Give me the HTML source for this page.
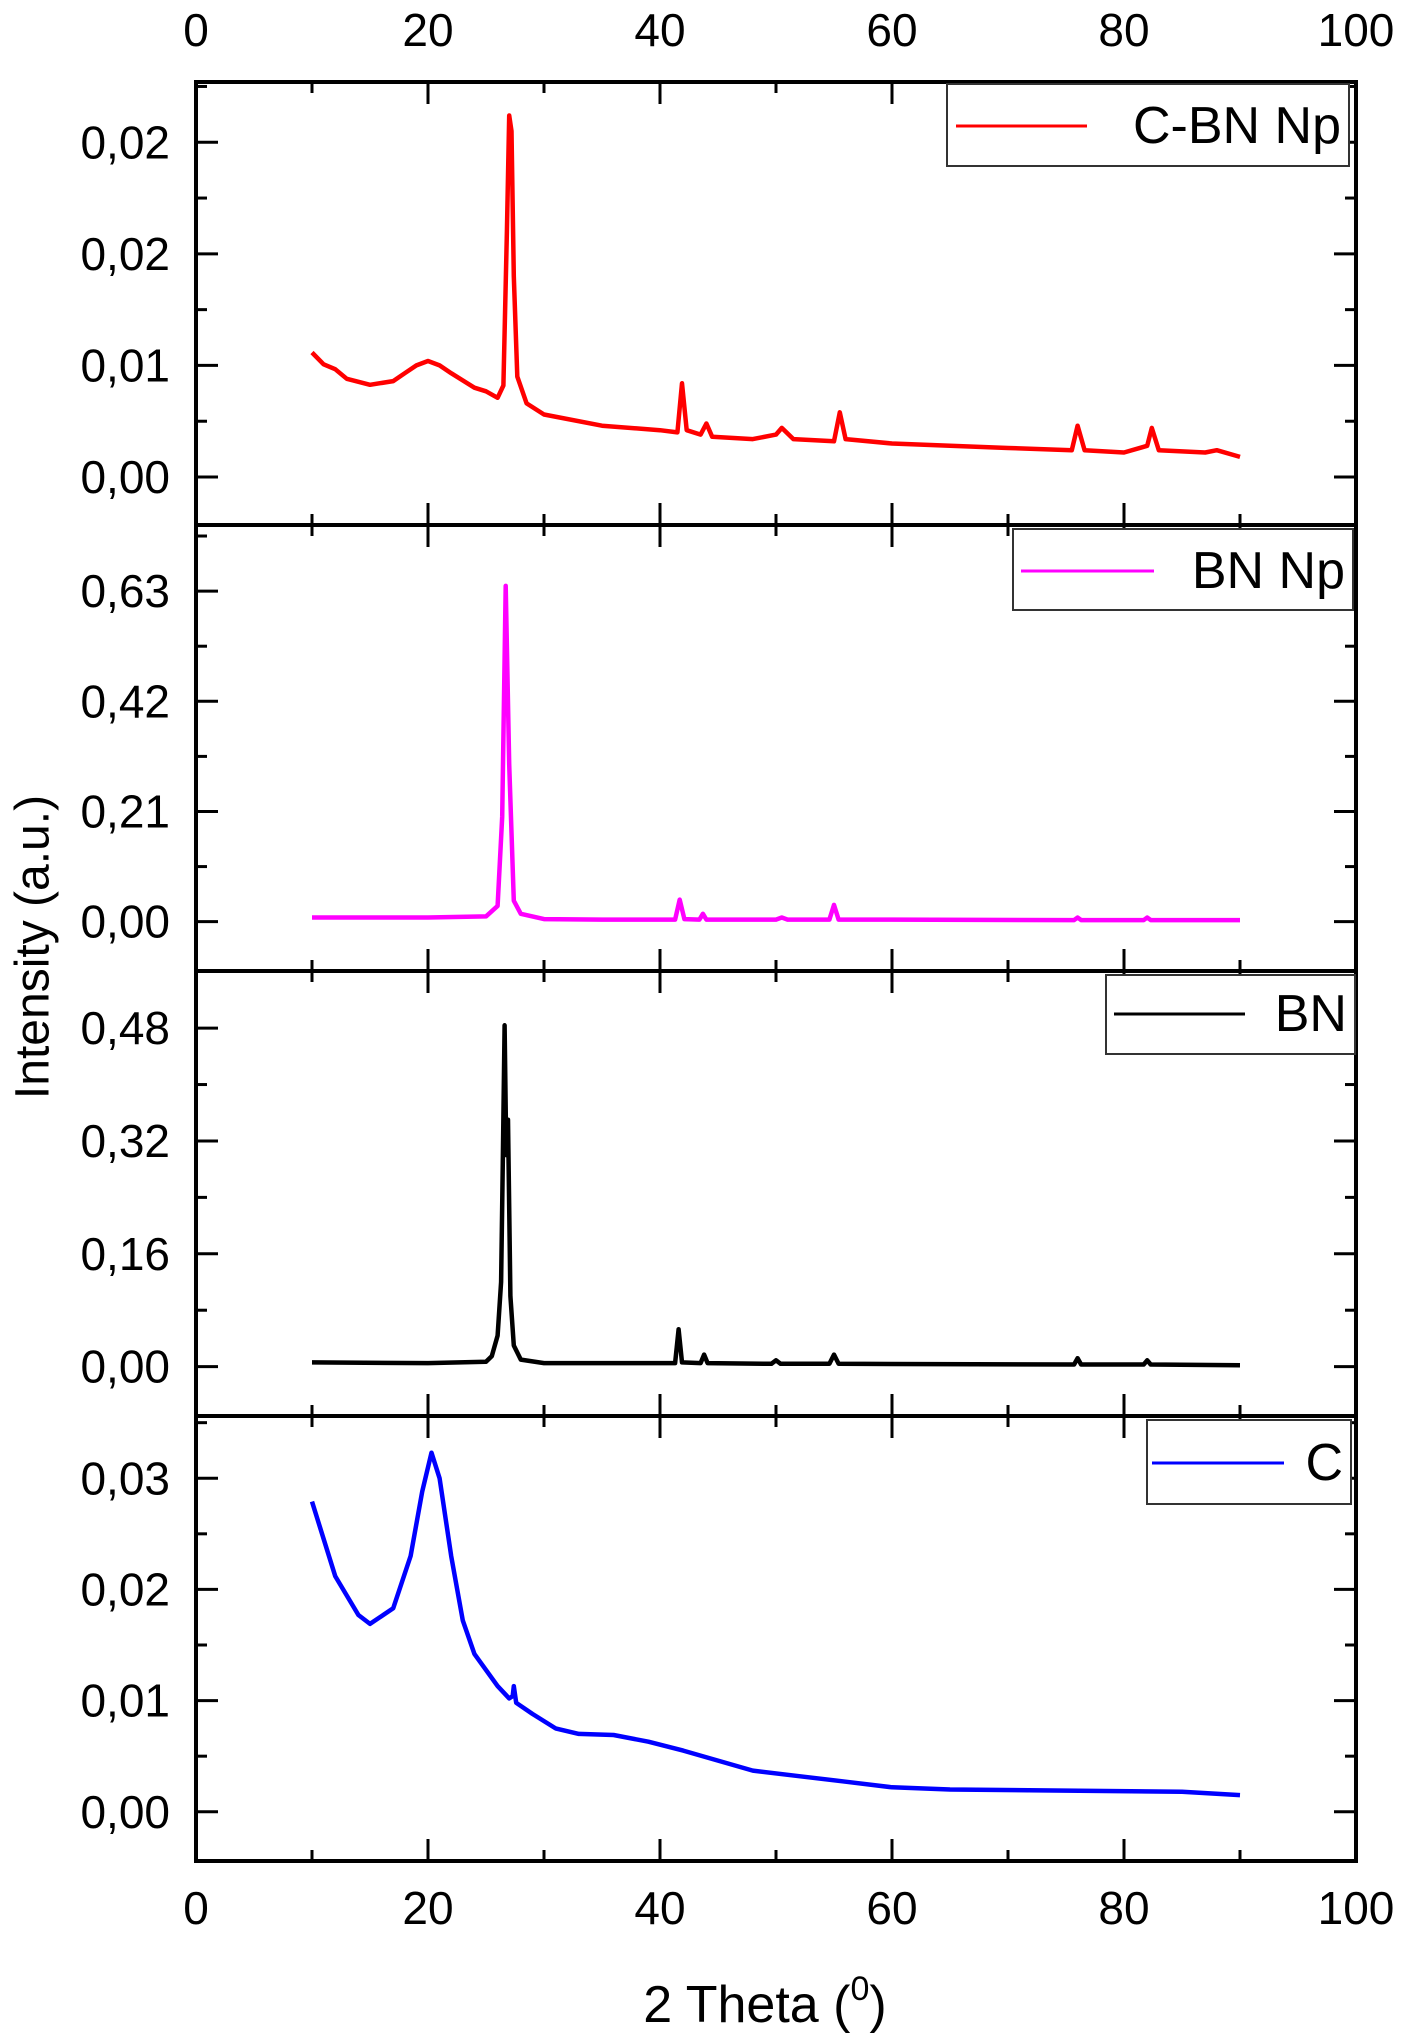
<!DOCTYPE html>
<html><head><meta charset="utf-8"><style>
html,body{margin:0;padding:0;background:#fff}
svg{display:block}
text{font-family:"Liberation Sans",sans-serif;fill:#000}
</style></head><body>
<svg id="chart" width="1405" height="2034" viewBox="0 0 1405 2034" xmlns="http://www.w3.org/2000/svg">
<g id="axes"></g>
<g id="series"></g>
<g id="legends"></g>
<text x="36" y="947" font-size="48" text-anchor="middle" dominant-baseline="middle" transform="rotate(-90 36 947)">Intensity (a.u.)</text>
<text x="765" y="2022" font-size="52" text-anchor="middle">2 Theta (<tspan font-size="34" dy="-22">0</tspan><tspan dy="22">)</tspan></text>
</svg>
<script>
// ---- data ----
const xTicks = [0, 20, 40, 60, 80, 100];
const cbnX = [10,11,12,13,15,17,18,19,20,21,22,24,25,26,26.5,26.8,27,27.2,27.4,27.7,28.5,30,35,40,41.5,41.9,42.3,43.5,44,44.5,48,50,50.5,51.5,55,55.5,56,60,70,75.5,76,76.6,80,82,82.4,83,87,88,90];
const cbnY = [.00558,.00505,.00483,.0044,.00413,.0043,.00465,.005,.0052,.005,.00465,.004,.00384,.00355,.0041,.011,.0162,.0155,.009,.0045,.0033,.0028,.0023,.0021,.002,.0042,.0021,.0019,.0024,.0018,.0017,.0019,.0022,.0017,.0016,.0029,.0017,.0015,.0013,.0012,.0023,.0012,.0011,.0014,.0022,.0012,.0011,.0012,.0009];
const bnnpX = [10,20,25,26,26.4,26.7,27,27.4,28,30,35,41.3,41.7,42.1,43.4,43.7,44,50,50.5,51,54.6,55,55.4,60,75.7,76,76.3,81.7,82,82.3,90];
const bnnpY = [.008,.008,.01,.03,.2,.64,.3,.04,.015,.005,.004,.004,.042,.005,.004,.015,.004,.004,.008,.004,.004,.032,.004,.004,.003,.008,.003,.003,.008,.003,.003];
const bnX = [10,20,25,25.5,26,26.3,26.45,26.6,26.75,26.9,27.1,27.4,28,30,41.3,41.6,41.9,43.5,43.8,44.1,49.6,50,50.4,54.6,55,55.4,75.7,76,76.3,81.7,82,82.3,90];
const bnY = [.006,.005,.007,.015,.044,.12,.29,.484,.3,.35,.1,.03,.01,.005,.005,.053,.006,.005,.017,.005,.004,.009,.004,.004,.017,.004,.003,.012,.003,.003,.009,.003,.002];
const cX = [10,12,14,15,17,18.5,19.5,20.3,21,22,23,24,26,27,27.3,27.4,27.6,29,31,33,36,39,42,45,48,52,56,60,65,75,85,90];
const cY = [.0279,.0212,.0177,.0169,.0183,.023,.0288,.0323,.030,.023,.0172,.0142,.0113,.0102,.0104,.0113,.0098,.0088,.0075,.007,.0069,.0063,.0055,.0046,.0037,.0032,.0027,.0022,.002,.0019,.0018,.0015];
const panel1Ticks = [0, .005, .01, .015];
const panel1Labels = ["0,00","0,01","0,02","0,02"];
const panel2Ticks = [0, .21, .42, .63];
const panel2Labels = ["0,00","0,21","0,42","0,63"];
const panel3Ticks = [0, .16, .32, .48];
const panel3Labels = ["0,00","0,16","0,32","0,48"];
const panel4Ticks = [0, .01, .02, .03];
const panel4Labels = ["0,00","0,01","0,02","0,03"];

const NS = "http://www.w3.org/2000/svg";
const L = 196, R = 1356;
const xs = v => L + (v - 0) / 100 * (R - L);
function mk(tag, attrs, parent) { const e = document.createElementNS(NS, tag); for (const k in attrs) e.setAttribute(k, attrs[k]); parent.appendChild(e); return e; }
const axesG = document.getElementById('axes'), serG = document.getElementById('series'), legG = document.getElementById('legends');

const panels = [
  {name:'c-bn-np', top:82, bot:525, ymin:-0.00215, ymax:0.0177, ticks:panel1Ticks, labels:panel1Labels, X:cbnX, Y:cbnY, color:'#ff0000', leg:'C-BN Np', box:[947,84,402,82], line:[956,1087,126]},
  {name:'bn-np', top:525, bot:971, ymin:-0.094, ymax:0.756, ticks:panel2Ticks, labels:panel2Labels, X:bnnpX, Y:bnnpY, color:'#ff00ff', leg:'BN Np', box:[1013,529,340,81], line:[1021,1154,571]},
  {name:'bn', top:971, bot:1416, ymin:-0.070, ymax:0.561, ticks:panel3Ticks, labels:panel3Labels, X:bnX, Y:bnY, color:'#000000', leg:'BN', box:[1106,975,249,79], line:[1114,1245,1014]},
  {name:'c', top:1416, bot:1861, ymin:-0.00443, ymax:0.0356, ticks:panel4Ticks, labels:panel4Labels, X:cX, Y:cY, color:'#0000ff', leg:'C', box:[1147,1420,204,84], line:[1152,1284,1463]}
];

panels.forEach((p, pi) => {
  const ys = v => p.bot - (v - p.ymin) / (p.ymax - p.ymin) * (p.bot - p.top);
  const fr = mk('rect', {x:L, y:p.top, width:R-L, height:p.bot-p.top, fill:'none', stroke:'#000', 'stroke-width':4}, axesG);
  
  
  for (let v = 0; v <= 100; v += 10) {
    const len = v % 20 === 0 ? 22 : 11;
    const x = xs(v);
    const t1 = mk('line', {x1:x, x2:x, y1:p.top, y2:p.top+len, stroke:'#000', 'stroke-width':3}, axesG);
    
    
    const t2 = mk('line', {x1:x, x2:x, y1:p.bot, y2:p.bot-len, stroke:'#000', 'stroke-width':3}, axesG);
    
    
  }
  const step = p.ticks[1] - p.ticks[0];
  for (let i = -2; i < 12; i++) {
    const v = i * step / 2;
    const y = ys(v);
    if (y < p.top + 4 || y > p.bot - 4) continue;
    const len = i % 2 === 0 ? 22 : 11;
    const a = mk('line', {x1:L, x2:L+len, y1:y, y2:y, stroke:'#000', 'stroke-width':3}, axesG);
    
    
    const b = mk('line', {x1:R, x2:R-len, y1:y, y2:y, stroke:'#000', 'stroke-width':3}, axesG);
    
    
  }
  p.ticks.forEach((v, i) => {
    const t = mk('text', {x:170, y:ys(v), 'font-size':46, 'text-anchor':'end', 'dominant-baseline':'central'}, axesG);
    t.textContent = p.labels[i];
    
    
  });
  const d = p.X.map((x, i) => (i ? 'L' : 'M') + xs(x).toFixed(1) + ' ' + ys(p.Y[i]).toFixed(1)).join(' ');
  const path = mk('path', {d:d, fill:'none', stroke:p.color, 'stroke-width':4.5, 'stroke-linejoin':'round'}, serG);
  
  
  const [bx, by, bw, bh] = p.box;
  const lb = mk('rect', {x:bx, y:by, width:bw, height:bh, fill:'#fff', stroke:'#333', 'stroke-width':2}, legG);
  
  
  const ll = mk('line', {x1:p.line[0], x2:p.line[1], y1:p.line[2], y2:p.line[2], stroke:p.color, 'stroke-width':3}, legG);
  
  
  const lt = mk('text', {x:bx+bw-8, y:p.line[2], 'font-size':52, 'text-anchor':'end', 'dominant-baseline':'central'}, legG);
  lt.textContent = p.leg;
  
  
});
xTicks.forEach(v => {
  const t = mk('text', {x:xs(v), y:30, 'font-size':46, 'text-anchor':'middle', 'dominant-baseline':'central'}, axesG);
  t.textContent = v;
  
  
  const b = mk('text', {x:xs(v), y:1908, 'font-size':46, 'text-anchor':'middle', 'dominant-baseline':'central'}, axesG);
  b.textContent = v;
  
  
});
</script>
</body></html>
